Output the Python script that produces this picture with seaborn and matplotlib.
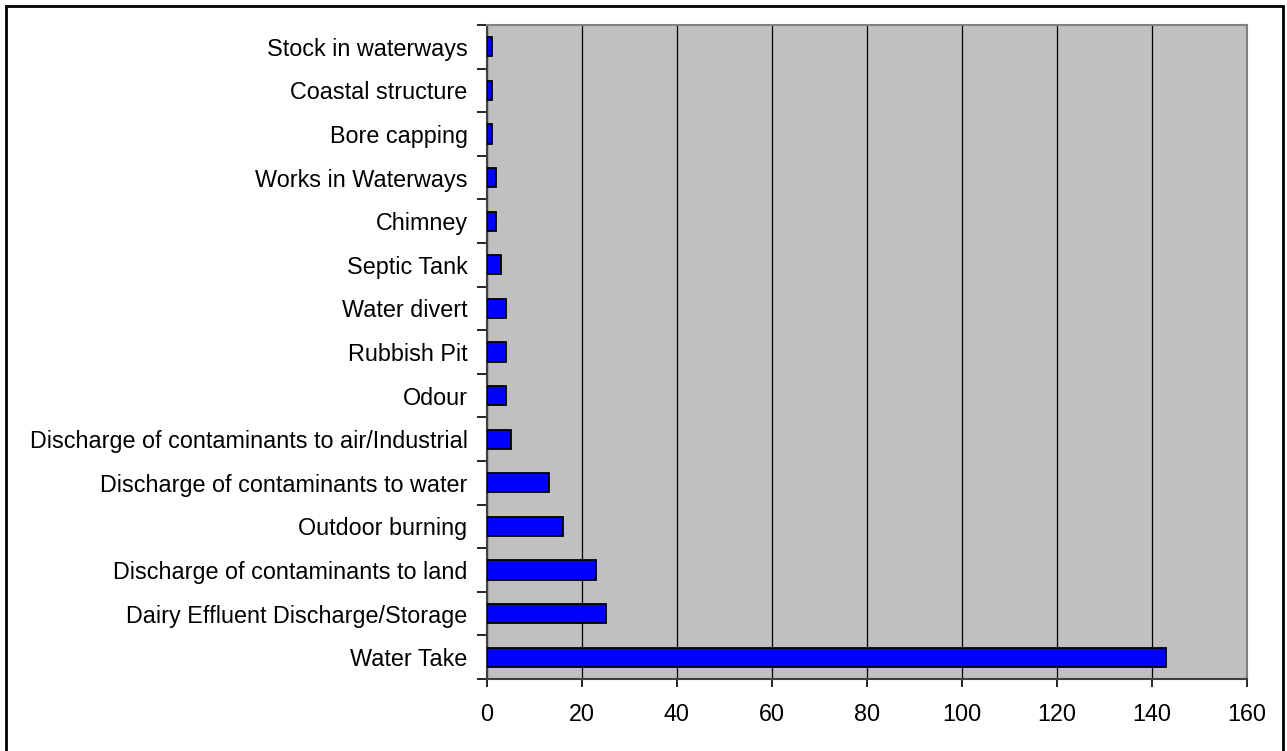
import matplotlib
matplotlib.use("Agg")
import matplotlib.pyplot as plt
import seaborn as sns
import pandas as pd
from matplotlib.patches import Rectangle
from matplotlib.ticker import MultipleLocator, FixedLocator

# Complaint categories, top to bottom as in the chart
categories = [
    "Stock in waterways",
    "Coastal structure",
    "Bore capping",
    "Works in Waterways",
    "Chimney",
    "Septic Tank",
    "Water divert",
    "Rubbish Pit",
    "Odour",
    "Discharge of contaminants to air/Industrial",
    "Discharge of contaminants to water",
    "Outdoor burning",
    "Discharge of contaminants to land",
    "Dairy Effluent Discharge/Storage",
    "Water Take",
]
counts = [1, 1, 1, 2, 2, 3, 4, 4, 4, 5, 13, 16, 23, 25, 143]

df = pd.DataFrame({"category": categories, "count": counts})

sns.set_style("white")
plt.rcParams["font.family"] = ["Liberation Sans", "DejaVu Sans"]

fig = plt.figure(figsize=(12.87, 7.51), dpi=100)
ax = fig.add_axes([487 / 1287, 1 - 679 / 751, (1247 - 487) / 1287, (679 - 25) / 751])

sns.barplot(data=df, x="count", y="category", orient="h", order=categories,
            color="#0000FF", saturation=1, width=0.44,
            edgecolor="black", linewidth=1.3, ax=ax, zorder=3)

ax.set_facecolor("#C0C0C0")
ax.set_xlim(0, 160)
ax.set_ylim(len(categories) - 0.5, -0.5)
ax.xaxis.set_major_locator(MultipleLocator(20))
ax.grid(axis="x", color="black", linewidth=0.9, zorder=0)
ax.set_axisbelow(True)
ax.set_xlabel("")
ax.set_ylabel("")

# ticks between categories on the y axis
ax.yaxis.set_minor_locator(FixedLocator([i - 0.5 for i in range(len(categories) + 1)]))
ax.tick_params(axis="y", which="major", left=True, length=0, pad=14, labelsize=16.8,
               labelcolor="black")
ax.tick_params(axis="y", which="minor", left=True, length=7, width=1.2, color="black",
               direction="out")
ax.tick_params(axis="x", which="major", bottom=True, length=6, width=1.2, color="black",
               direction="out", pad=11, labelsize=16.8, labelcolor="black")

for side in ["top", "right"]:
    ax.spines[side].set_visible(True)
ax.spines["top"].set_color("#808080")
ax.spines["right"].set_color("#808080")
ax.spines["left"].set_color("#404040")
ax.spines["bottom"].set_color("#404040")
for s in ax.spines.values():
    s.set_linewidth(1.5)

# outer frame of the chart
fig.patches.append(Rectangle((6 / 1287, -0.02), (1283 - 6) / 1287, 1.02 - 6 / 751,
                             transform=fig.transFigure, fill=False,
                             edgecolor="black", linewidth=2))

plt.savefig("out.png", dpi=100)
